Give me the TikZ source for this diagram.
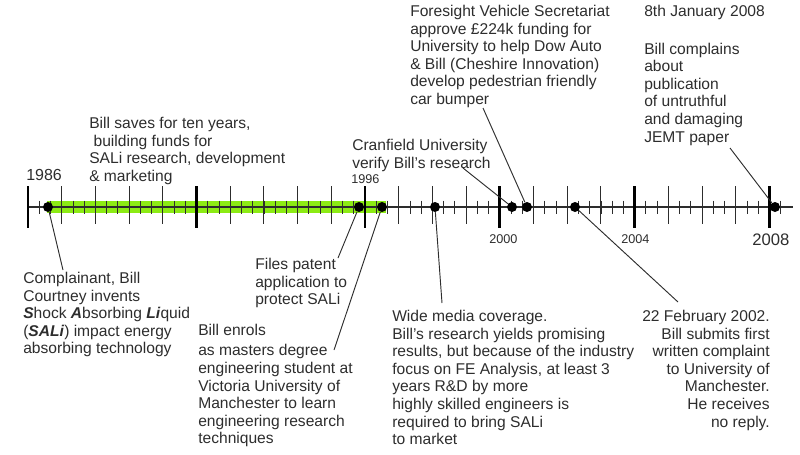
\documentclass[tikz,border=0pt]{standalone}
\usepackage{fontspec}
\setmainfont{Liberation Sans}
\usetikzlibrary{arrows.meta,calc}

\definecolor{limegreen}{RGB}{140,235,20}
\definecolor{inkgrey}{RGB}{45,45,45}

\tikzset{
  note/.style={font=\fontsize{11.7}{13.2}\selectfont, align=left, inner sep=0pt,
    text=inkgrey, anchor=north west},
  yearlabel/.style={inner sep=0pt, text=inkgrey, anchor=base west},
  dot/.style={circle, fill=black, inner sep=0pt, minimum size=7.5pt},
  link/.style={draw=inkgrey, line width=0.7pt},
}

\begin{document}
\begin{tikzpicture}[x=0.75pt, y=-0.75pt, line cap=butt]
\useasboundingbox (0,0) rectangle (800,454);

% ----------------------------
% PARAMETERS
% ----------------------------
\def\yA{207}     % height of the axis
\def\xA{28}      % position of 1986
\def\yr{33.7}    % length of one year

% ----------------------------
% GREEN BAND (ten years of saving)
% ----------------------------
\fill[limegreen] (47,201) rectangle (386,213);

% ----------------------------
% AXIS AND TICKS
% ----------------------------
\draw[inkgrey, line width=0.8pt] (\xA,\yA) -- (793,\yA);

% thirds of a year
\foreach \k in {1,...,67}
  \draw[inkgrey, line width=0.6pt] ({\xA+\k*\yr/3},{\yA-6.5}) -- ++(0,13);

% years
\foreach \n in {1,...,21}
  \draw[inkgrey, line width=0.7pt] ({\xA+\n*\yr},186) -- ++(0,38);

% major years
\foreach \n in {0,5,10,14,18,22}
  \draw[black, line width=2.2pt] ({\xA+\n*\yr},186) -- ++(0,42);

% ----------------------------
% YEAR LABELS
% ----------------------------
\node[yearlabel, font=\fontsize{12}{13}\selectfont] (y1986) at (26,180) {1986};
\node[yearlabel, font=\fontsize{9.5}{11}\selectfont] (y1996) at (351,183) {1996};
\node[yearlabel, font=\fontsize{9.5}{11}\selectfont] (y2000) at (489,243) {2000};
\node[yearlabel, font=\fontsize{9.5}{11}\selectfont] (y2004) at (621,243) {2004};
\node[yearlabel, font=\fontsize{12.5}{14}\selectfont] (y2008) at (752,245) {2008};

% ----------------------------
% EVENTS ON THE AXIS
% ----------------------------
\node[dot] (invent)  at (48,\yA)  {};
\node[dot] (patent)  at (359,\yA) {};
\node[dot] (enrol)   at (382,\yA) {};
\node[dot] (media)   at (435,\yA) {};
\node[dot] (verify)  at (512,\yA) {};
\node[dot] (fund)    at (527,\yA) {};
\node[dot] (letter)  at (575,\yA) {};
\node[dot] (paper)   at (775,\yA) {};

% ----------------------------
% TEXTS
% ----------------------------
\node[note] (savesTxt) at (89,117)
  {Bill saves for ten years,\\\ building funds for\\SALi research, development\\\& marketing};

\node[note] (verifyTxt) at (352,139)
  {Cranfield University\\verify Bill's research};

\node[note] (fundTxt) at (410,5)
  {Foresight Vehicle Secretariat\\approve £224k funding for\\University to help Dow Auto\\\& Bill (Cheshire Innovation)\\develop pedestrian friendly\\car bumper};

\node[note] (paperTxt) at (644,5)
  {8th January 2008\\[15pt]Bill complains\\about\\publication\\of untruthful\\and damaging\\JEMT paper};

\node[note] (inventTxt) at (23,272)
  {Complainant, Bill\\Courtney invents\\\textbf{\textit{S}}hock \textbf{\textit{A}}bsorbing \textbf{\textit{Li}}quid\\(\textbf{\textit{SALi}}) impact energy\\absorbing technology};

\node[note] (patentTxt) at (255,258)
  {Files patent\\application to\\protect SALi};

\node[note] (enrolTxt) at (198,324)
  {Bill enrols\\[2pt]as masters degree\\engineering student at\\Victoria University of\\Manchester to learn\\engineering research\\techniques};

\node[note] (mediaTxt) at (392,310)
  {Wide media coverage.\\Bill's research yields promising\\results, but because of the industry\\focus on FE Analysis, at least 3\\years R\&D by more\\highly skilled engineers is\\required to bring SALi\\to market};

\node[note, anchor=north east, align=right] (letterTxt) at (770,310)
  {22 February 2002.\\Bill submits first\\written complaint\\to University of\\Manchester.\\He receives\\no reply.};

% ----------------------------
% CONNECTORS
% ----------------------------
\coordinate (inventEnd) at (63,270);
\coordinate (patentEnd) at (338,258);
\coordinate (enrolEnd)  at (334,350);
\coordinate (mediaEnd)  at (442,303);
\coordinate (verifyEnd) at (463,168);
\coordinate (fundEnd)   at (483,108);
\coordinate (letterEnd) at (678,302);
\coordinate (paperEnd)  at (730,148);

\draw[link] (invent) -- (inventEnd);
\draw[link] (patent) -- (patentEnd);
\draw[link] (enrol)  -- (enrolEnd);
\draw[link] (media)  -- (mediaEnd);
\draw[link] (verify) -- (verifyEnd);
\draw[link] (fund)   -- (fundEnd);
\draw[link] (letter) -- (letterEnd);
\draw[link] (paper)  -- (paperEnd);

\end{tikzpicture}
\end{document}
